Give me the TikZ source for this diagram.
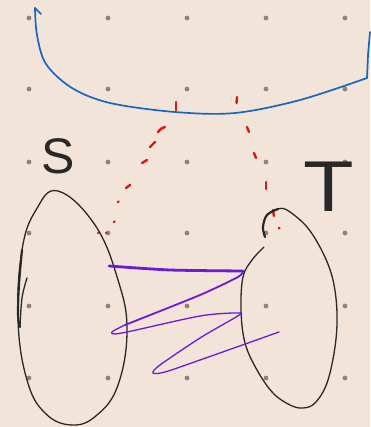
\documentclass[tikz,border=0pt]{standalone}
\usepackage{fontspec}
\setsansfont{Liberation Sans}
\definecolor{bgpeach}{RGB}{243,228,217}
\definecolor{dotgray}{RGB}{140,132,126}
\definecolor{penblue}{RGB}{22,102,196}
\definecolor{penred}{RGB}{222,22,22}
\definecolor{penpurple}{RGB}{108,24,222}
\definecolor{penblack}{RGB}{40,40,40}
\tikzset{
  gdot/.style={fill=dotgray},
  bluepen/.style={draw=penblue,line width=1.7pt,line cap=round,line join=round},
  redpen/.style={draw=penred,line width=2.4pt,line cap=round},
  purplepen/.style={draw=penpurple,line width=1.3pt,line cap=round,line join=round},
  blackpen/.style={draw=penblack,line width=1.3pt,line cap=round,line join=round},
  lbl/.style={text=penblack,font=\sffamily,inner sep=0pt}
}
\begin{document}
\begin{tikzpicture}[x=1pt,y=-1pt]
\fill[bgpeach] (0,0) rectangle (370,427);
\useasboundingbox (0,0) rectangle (370,427);
% grid dots
\foreach \gx in {29,108,187,266,345}{
  \foreach \gy in {18,89,162,233,306,378}{
    \fill[gdot] (\gx,\gy) circle (2.4);
  }
}
% blue curve
\draw[bluepen] plot[smooth,tension=0.55] coordinates {(35,8) (37,35) (46,64) (72,88) (110,103) (175,112) (235,113) (300,100) (367,78)};
\draw[bluepen] (367,78) -- (368,55) -- (370,32);
\draw[bluepen] (35,8) -- (41,14);
% red dashes left
\draw[redpen] (176,102) -- (176,110);
\draw[redpen] (158,132) to[bend left=20] (165,127);
\draw[redpen] (150,147) -- (155,142);
\draw[redpen] (142,163) -- (147,160);
\draw[redpen] (126,188) -- (130,185);
\draw[redpen] (118,202) -- (118.5,201.5);
\draw[redpen] (114,222) -- (114.5,221.5);
\draw[redpen] (106,233) -- (106.5,233);
\draw[redpen] (98,233) -- (98.5,233);
% red dashes right
\draw[redpen] (237,97) -- (236.5,103);
\draw[redpen] (247,127) -- (249,132);
\draw[redpen] (254,153) -- (256,158);
\draw[redpen] (266,182) -- (266,189);
\draw[redpen] (273,210) -- (274,216);
\draw[redpen] (279,228) -- (279.5,228.5);
% S ellipse
\draw[blackpen] plot[smooth cycle,tension=0.7] coordinates {(58,191) (95,225) (118,280) (127,330) (118,385) (97,415) (72,425) (45,413) (27,380) (18,320) (22,250) (36,210)};
\draw[blackpen,line width=2.1pt] plot[smooth,tension=0.6] coordinates {(22,250) (19,285) (18,315) (20,327)};
\draw[blackpen] plot[smooth,tension=0.6] coordinates {(27,278) (22,298) (20,327)};
% T ellipse
\draw[blackpen,line width=2.2pt] plot[smooth,tension=0.6] coordinates {(265,237) (263,227) (267,215) (278,209)};
\draw[blackpen] plot[smooth,tension=0.6] coordinates {(278,209) (287,210) (307,227) (323,253) (333,280) (337,313) (335,347) (327,383) (315,403) (303,408) (290,405) (273,393) (257,370) (245,343) (241,310) (243,277) (252,260) (264,247)};
% purple zigzag
\draw[purplepen,line width=2.8pt] plot[smooth,tension=0.4] coordinates {(109,266) (170,270) (243,271)};
\draw[purplepen,line width=1.8pt] plot[smooth,tension=0.4] coordinates {(243,271) (238,277) (200,295) (125,325)};
\draw[purplepen] plot[smooth,tension=0.5] coordinates {(125,325) (112,332) (122,333) (200,316) (239,313) (236,317) (200,338) (160,365) (153,373) (165,372) (200,360) (279,332)};
% labels
\node[lbl,font=\sffamily\fontsize{50}{50}\selectfont] (labS) at (58,156) {S};
\node[lbl,font=\sffamily\fontsize{72}{72}\selectfont,xscale=1.15] (labT) at (329,187) {T};
\end{tikzpicture}
\end{document}
